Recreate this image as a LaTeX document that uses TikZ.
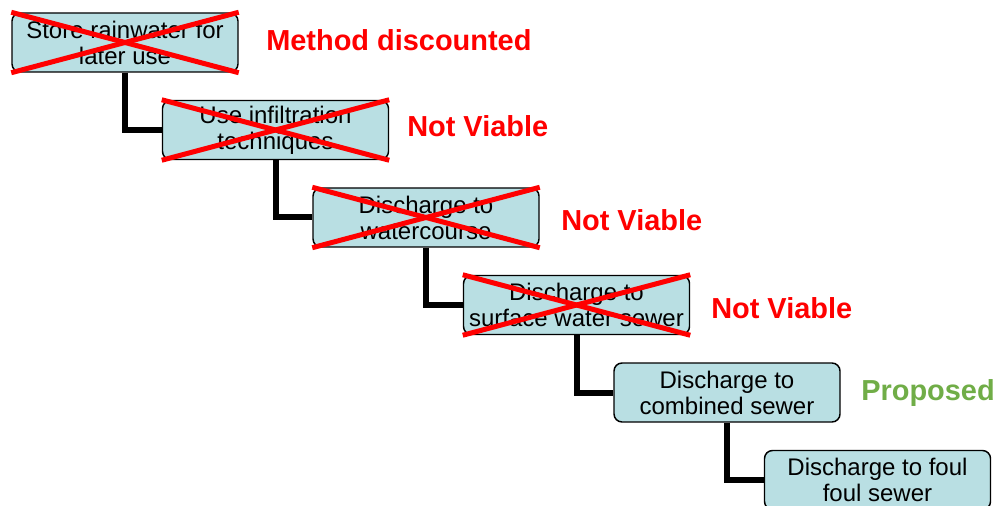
\documentclass[tikz,border=0pt]{standalone}
\usepackage{fontspec}
\setmainfont{Liberation Sans}
\definecolor{boxfill}{RGB}{185,223,227}
\definecolor{okgreen}{RGB}{112,173,71}
\definecolor{xred}{RGB}{255,0,0}
\begin{document}
\begin{tikzpicture}[x=0.75pt,y=-0.75pt,
  stepbox/.style={draw=black,line width=1.1pt,fill=boxfill,rounded corners=6pt,
    minimum width=169.5pt,minimum height=44.25pt,inner sep=0pt,align=center,
    font=\fontsize{18}{19.5}\selectfont},
  verdict/.style={anchor=base west,inner sep=0pt,font=\fontsize{21.7}{24}\selectfont\bfseries},
  link/.style={draw=black,line width=4.5pt},
  cross/.style={draw=xred,line width=3.75pt}]
\path[use as bounding box] (0,0) rectangle (1000,506);
\clip (0,0) rectangle (1000,506);
\node[stepbox] (b1) at (125,42.5) {Store rainwater for\\later use};
\node[stepbox] (b2) at (275.5,130) {Use infiltration\\techniques};
\node[stepbox] (b3) at (426,217.5) {Discharge to\\watercourse};
\node[stepbox] (b4) at (576.5,305) {Discharge to\\surface water sewer};
\node[stepbox] (b5) at (727,392.5) {Discharge to\\combined sewer};
\node[stepbox] (b6) at (877.5,480) {Discharge to foul\\foul sewer};
\draw[link] (b1.south) |- (b2.west);
\draw[link] (b2.south) |- (b3.west);
\draw[link] (b3.south) |- (b4.west);
\draw[link] (b4.south) |- (b5.west);
\draw[link] (b5.south) |- (b6.west);
\foreach \b in {b1,b2,b3,b4}{
  \draw[cross] (\b.north west) -- (\b.south east);
  \draw[cross] (\b.north east) -- (\b.south west);
}
\node[verdict,text=xred] (l1) at (266,51) {Method discounted};
\node[verdict,text=xred] (l2) at (407,137) {Not Viable};
\node[verdict,text=xred] (l3) at (561,230) {Not Viable};
\node[verdict,text=xred] (l4) at (711,318) {Not Viable};
\node[verdict,text=okgreen] (l5) at (861,400) {Proposed};
\end{tikzpicture}
\end{document}
